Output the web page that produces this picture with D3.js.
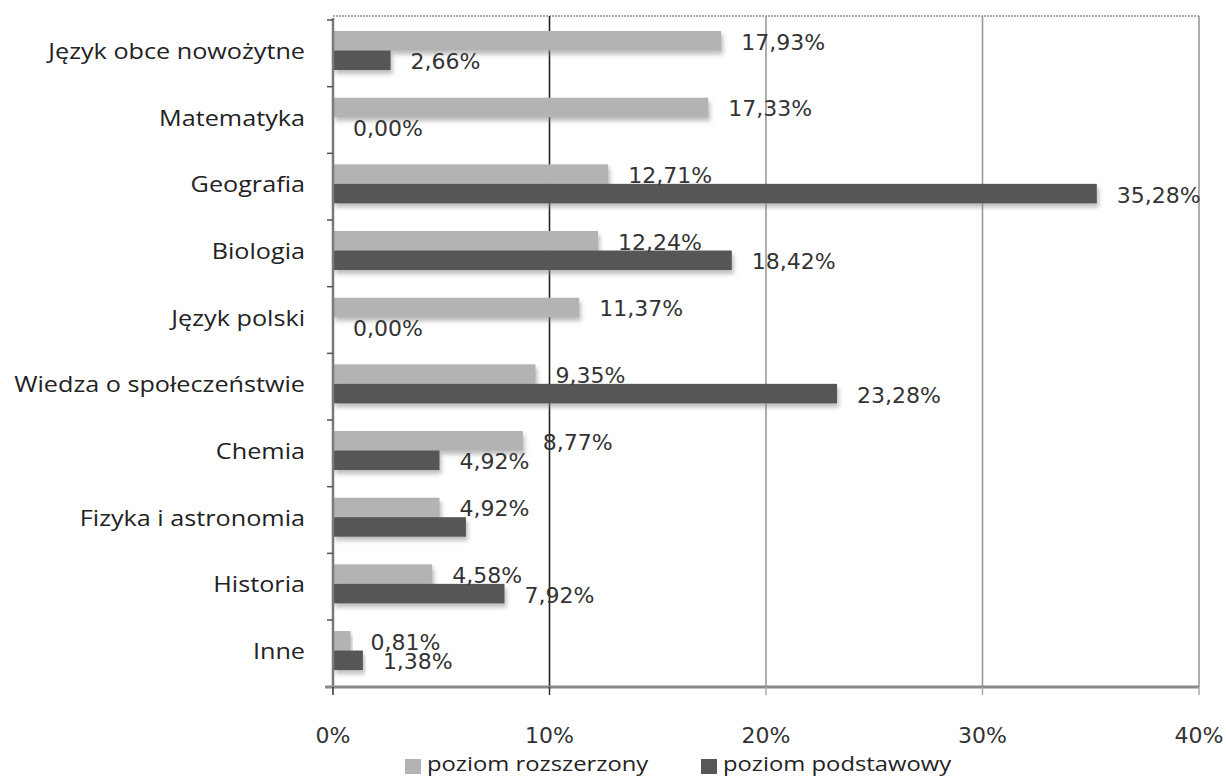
<!DOCTYPE html>
<html><head><meta charset="utf-8">
<script src="https://cdn.jsdelivr.net/npm/d3@7/dist/d3.min.js"></script>
<style>body{margin:0;background:#fff}</style>
</head><body><svg id="c" width="1226" height="781"></svg>
<script>
const categories = ["Język obce nowożytne","Matematyka","Geografia","Biologia","Język polski","Wiedza o społeczeństwie","Chemia","Fizyka i astronomia","Historia","Inne"];
const seriesNames = ["poziom rozszerzony","poziom podstawowy"];
const rozszerzony = [17.93,17.33,12.71,12.24,11.37,9.35,8.77,4.92,4.58,0.81];
const podstawowy = [2.66,0.00,35.28,18.42,0.00,23.28,4.92,6.14,7.92,1.38];
const rozszerzonyLabels = ["17,93%","17,33%","12,71%","12,24%","11,37%","9,35%","8,77%","4,92%","4,58%","0,81%"];
const podstawowyLabels = ["2,66%","0,00%","35,28%","18,42%","0,00%","23,28%","4,92%",null,"7,92%","1,38%"];
const xTicks = [0,10,20,30,40];
const xTickLabels = ["0%","10%","20%","30%","40%"];
const colors = ["#b3b3b3","#575757"];

const svg = d3.select("#c");
const defs = svg.append("defs");
const f = defs.append("filter").attr("id","sh").attr("x","-5%").attr("y","-30%").attr("width","115%").attr("height","180%");
f.append("feDropShadow").attr("dx",2).attr("dy",4).attr("stdDeviation",2).attr("flood-color","#888").attr("flood-opacity",0.55);

const x = d3.scaleLinear().domain([0,40]).range([333,1199]);
const y = d3.scaleBand().domain(categories).range([20,686.7]);
const inner = d3.scaleBand().domain(seriesNames).range([11,50]);

// top dotted border
svg.append("line").attr("x1",x(0)).attr("x2",x(40)).attr("y1",16).attr("y2",16)
  .attr("stroke","#b0b0b0").attr("stroke-width",2).attr("stroke-dasharray","2,1");

// gridlines
svg.append("g").selectAll("line").data(xTicks.slice(1)).join("line")
  .attr("x1",d=>x(d)).attr("x2",d=>x(d)).attr("y1",16).attr("y2",687)
  .attr("stroke",d=>d===10?"#222":"#9a9a9a").attr("stroke-width",1.6);

// bars
const data = categories.map((c,i)=>({c, vals:[
  {s:seriesNames[0], v:rozszerzony[i], l:rozszerzonyLabels[i]},
  {s:seriesNames[1], v:podstawowy[i], l:podstawowyLabels[i]}]}));
const g = svg.append("g").selectAll("g").data(data).join("g")
  .attr("transform",d=>`translate(0,${y(d.c)})`);
g.selectAll("rect").data(d=>d.vals).join("rect")
  .attr("x",x(0)).attr("y",d=>inner(d.s)).attr("height",inner.bandwidth())
  .attr("width",d=>x(d.v)-x(0)).attr("fill",(d,i)=>colors[i])
  .attr("filter","url(#sh)");
g.selectAll("text").data(d=>d.vals.filter(v=>v.l!==null)).join("text")
  .attr("x",d=>x(d.v)+20).attr("y",d=>inner(d.s)+inner.bandwidth()/2+3)
  .attr("dominant-baseline","middle")
  .attr("font-family","DejaVu Sans").attr("font-size",22).attr("fill","#333")
  .text(d=>d.l);

// left axis
svg.append("line").attr("x1",x(0)).attr("x2",x(0)).attr("y1",18).attr("y2",688)
  .attr("stroke","#7a7a7a").attr("stroke-width",2.5);
svg.append("g").selectAll("line").data(d3.range(categories.length+1)).join("line")
  .attr("x1",x(0)-6).attr("x2",x(0)).attr("y1",i=>20+i*y.step()).attr("y2",i=>20+i*y.step())
  .attr("stroke","#555").attr("stroke-width",1.5);
// bottom axis
svg.append("line").attr("x1",x(0)-8).attr("x2",x(40)).attr("y1",687).attr("y2",687)
  .attr("stroke","#8a8a8a").attr("stroke-width",3);
svg.append("g").selectAll("line").data(xTicks).join("line")
  .attr("x1",d=>x(d)).attr("x2",d=>x(d)).attr("y1",687).attr("y2",695)
  .attr("stroke",d=>d<=10?"#333":"#aaa").attr("stroke-width",1.5);
svg.append("g").selectAll("text").data(xTicks).join("text")
  .attr("x",d=>x(d)).attr("y",737).attr("text-anchor","middle").attr("dominant-baseline","middle")
  .attr("font-family","DejaVu Sans").attr("font-size",22).attr("fill","#333")
  .text((d,i)=>xTickLabels[i]);

// category labels
svg.append("g").selectAll("text").data(categories).join("text")
  .attr("transform",d=>`translate(305,${y(d)+y.bandwidth()/2}) scale(1.2,1)`)
  .attr("text-anchor","end").attr("dominant-baseline","middle")
  .attr("font-family","Open Sans").attr("font-size",21).attr("fill","#222")
  .text(d=>d);

// legend
const legX = [405,701];
const lg = svg.append("g").selectAll("g").data(seriesNames).join("g")
  .attr("transform",(d,i)=>`translate(${legX[i]},766)`);
lg.append("rect").attr("x",0).attr("y",-7).attr("width",16).attr("height",15).attr("fill",(d,i)=>colors[i]);
lg.append("text").attr("transform","translate(22,0) scale(1.22,1)").attr("dominant-baseline","middle")
  .attr("font-family","Open Sans").attr("font-size",19.5).attr("fill","#222").text(d=>d);
</script></body></html>
